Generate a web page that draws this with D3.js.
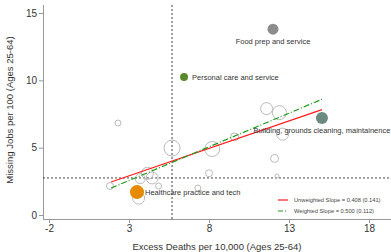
<!DOCTYPE html>
<html>
<head>
<meta charset="utf-8">
<script src="https://cdn.jsdelivr.net/npm/d3@7"></script>
<style>
  body { margin: 0; background: #fff; }
  svg { font-family: "Liberation Sans", Arial, sans-serif; }
</style>
</head>
<body>
<div id="chart"></div>
<script>
// hollow occupation bubbles (excess deaths, missing jobs, radius)
var otherX = [2.31, 5.69, 1.81, 4.15, 4.45, 3.7, 4.85, 3.6, 7.3, 8.0, 8.2, 9.6, 11.6, 12.4, 12.6, 12.1, 12.25];
var otherY = [6.83, 4.97, 2.15, 3.1, 2.75, 2.7, 2.15, 1.25, 2.0, 3.1, 4.9, 5.8, 7.9, 7.6, 6.0, 4.2, 2.9];
var otherR = [3, 8, 3.5, 6, 6, 5, 3, 6, 3, 3.5, 7.5, 4, 6, 7, 6, 4, 2];

// highlighted occupations
var hiNames = ["Food prep and service", "Personal care and service", "Building, grounds cleaning, maintainence", "Healthcare practice and tech"];
var hiX = [12.0, 6.44, 15.06, 3.5];
var hiY = [13.8, 10.25, 7.2, 1.7];
var hiColors = ["#8c8c8c", "#5a8a2c", "#6b8b80", "#e68a00"];

var xTicks = [-2, 3, 8, 13, 18];
var yTicks = [0, 5, 10, 15];

// fitted lines
var fitRange = [1.88, 15.06];
var unweighted = {slope: 0.408, intercept: 1.68, label: "Unweighted Slope = 0.408 (0.141)"};
var weighted = {slope: 0.500, intercept: 1.06, label: "Weighted Slope = 0.500 (0.112)"};

// reference lines (means)
var meanX = 5.69, meanY = 2.75;

var width = 391, height = 252;
var svg = d3.select("#chart").append("svg")
    .attr("width", width)
    .attr("height", height);

var x = d3.scaleLinear().domain([-2, 18]).range([49, 369]);
var y = d3.scaleLinear().domain([0, 15]).range([215, 13]);

var axisColor = "#999";

// axes
var xAxis = svg.append("g")
    .attr("transform", "translate(0,219)")
    .call(d3.axisBottom(x).tickValues(xTicks).tickFormat(function(d) { return String(d); })
        .tickSize(4).tickPadding(2).tickSizeOuter(0));
xAxis.select(".domain").attr("d", "M43,0.5H391").attr("stroke", axisColor);

var yAxis = svg.append("g")
    .attr("transform", "translate(43,0)")
    .call(d3.axisLeft(y).tickValues(yTicks).tickSize(4).tickPadding(2).tickSizeOuter(0));
yAxis.select(".domain").attr("d", "M0.5,5V219").attr("stroke", axisColor);

svg.selectAll(".tick line").attr("stroke", axisColor);
svg.selectAll(".tick text").attr("fill", "#333").style("font-size", "10px");

svg.append("text")
    .attr("x", 217).attr("y", 250)
    .attr("text-anchor", "middle")
    .attr("fill", "#333")
    .style("font-size", "9.5px")
    .text("Excess Deaths per 10,000 (Ages 25-64)");

svg.append("text")
    .attr("transform", "translate(13,110) rotate(-90)")
    .attr("text-anchor", "middle")
    .attr("fill", "#333")
    .style("font-size", "9.5px")
    .text("Missing Jobs per 100 (Ages 25-64)");

// dotted mean lines
svg.append("line")
    .attr("x1", x(meanX)).attr("x2", x(meanX))
    .attr("y1", 5).attr("y2", 219)
    .attr("stroke", "#444").attr("stroke-width", 1)
    .attr("stroke-dasharray", "2,2");
svg.append("line")
    .attr("x1", 43).attr("x2", 391)
    .attr("y1", y(meanY)).attr("y2", y(meanY))
    .attr("stroke", "#444").attr("stroke-width", 1)
    .attr("stroke-dasharray", "2,2");

// hollow bubbles
svg.selectAll("circle.other")
    .data(otherX)
    .enter().append("circle")
    .attr("class", "other")
    .attr("cx", function(d) { return x(d); })
    .attr("cy", function(d, i) { return y(otherY[i]); })
    .attr("r", function(d, i) { return otherR[i]; })
    .attr("fill", "none")
    .attr("stroke", "#bbb")
    .attr("stroke-width", 1);

// fit lines
function fitLine(f) {
    return fitRange.map(function(v) { return [x(v), y(f.intercept + f.slope * v)]; });
}
var line = d3.line();
svg.append("path")
    .attr("d", line(fitLine(unweighted)))
    .attr("stroke", "#ff1a1a").attr("stroke-width", 1.2).attr("fill", "none");
svg.append("path")
    .attr("d", line(fitLine(weighted)))
    .attr("stroke", "#1a9a1a").attr("stroke-width", 1.2).attr("fill", "none")
    .attr("stroke-dasharray", "6,2,1,2");

// highlighted occupations
var hiR = [5.5, 4, 6, 7];
svg.selectAll("circle.hi")
    .data(hiX)
    .enter().append("circle")
    .attr("class", "hi")
    .attr("cx", function(d) { return x(d); })
    .attr("cy", function(d, i) { return y(hiY[i]); })
    .attr("r", function(d, i) { return hiR[i]; })
    .attr("fill", function(d, i) { return hiColors[i]; });

// labels: below for first and third, to the right for others
var labelPos = [
    {dx: 0, dy: 15, anchor: "middle"},
    {dx: 8, dy: 3, anchor: "start"},
    {dx: 0, dy: 15, anchor: "middle"},
    {dx: 8, dy: 3, anchor: "start"}
];
svg.selectAll("text.hilabel")
    .data(hiNames)
    .enter().append("text")
    .attr("class", "hilabel")
    .attr("x", function(d, i) { return x(hiX[i]) + labelPos[i].dx; })
    .attr("y", function(d, i) { return y(hiY[i]) + labelPos[i].dy; })
    .attr("text-anchor", function(d, i) { return labelPos[i].anchor; })
    .attr("fill", "#333")
    .style("font-size", "7.5px")
    .text(function(d) { return d; });

// legend
var legend = svg.append("g").attr("transform", "translate(278,200)");
[unweighted, weighted].forEach(function(f, i) {
    legend.append("line")
        .attr("x1", 0).attr("x2", 10)
        .attr("y1", i * 11).attr("y2", i * 11)
        .attr("stroke", i == 0 ? "#ff1a1a" : "#1a9a1a")
        .attr("stroke-width", 1.2)
        .attr("stroke-dasharray", i == 0 ? null : "5,2,1,2");
    legend.append("text")
        .attr("x", 16).attr("y", i * 11 + 2)
        .attr("fill", "#444")
        .style("font-size", "5.7px")
        .text(f.label);
});
</script>
</body>
</html>
